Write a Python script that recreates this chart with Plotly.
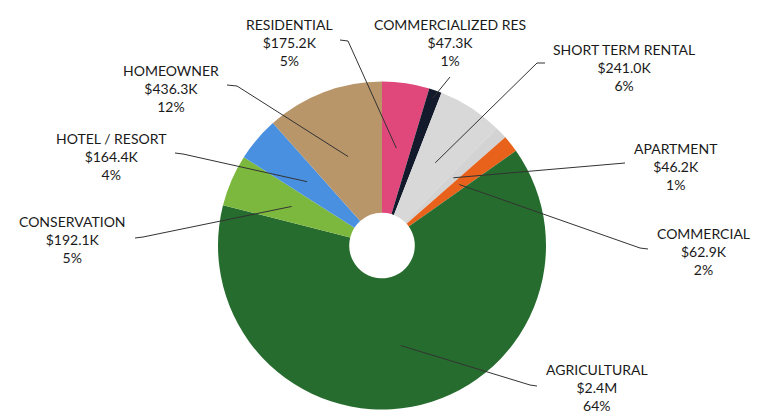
import math
import plotly.graph_objects as go

# Property class totals (thousands of dollars), clockwise from 12 o'clock
categories = ["RESIDENTIAL", "COMMERCIALIZED RES", "SHORT TERM RENTAL", "APARTMENT",
              "COMMERCIAL", "AGRICULTURAL", "CONSERVATION", "HOTEL / RESORT", "HOMEOWNER"]
values_k = [175.2, 47.3, 241.0, 46.2, 62.9, 2400.0, 192.1, 164.4, 436.3]
colors = ["#e0487c", "#121a2c", "#d8d8d8", "#d3d3d3", "#e8621c",
          "#266c2e", "#7db83e", "#4a90e0", "#b8966a"]

# Label block centres and leader-line start / elbow (pixel space)
label_xy = [(289, 42), (450, 42), (624, 67), (676, 166), (703, 251),
            (597, 387), (72, 239), (111, 156), (171, 88)]
leader_start = [(340, 40), (450, 77), (545, 63), (625, 163), (648, 249),
                (537, 386), (135, 238), (175, 153), (227, 85)]
leader_elbow = [(348, 41), (450, 77), (537, 63), (625, 163), (640, 248),
                (530, 385), (143, 237), (183, 154), (237, 86)]
tip_frac = [0.6, 0.95, 0.6, 0.6, 0.6, 0.62, 0.6, 0.6, 0.58]

W, H = 763, 417
CX, CY, R = 382, 245.5, 164
HOLE = 0.2


def fmt_money(v):
    return f"${v / 1000:.1f}M" if v >= 1000 else f"${v:.1f}K"


total = sum(values_k)
fig = go.Figure()

fig.add_trace(go.Pie(
    labels=categories, values=values_k, sort=False, direction="clockwise",
    rotation=0, hole=HOLE, textinfo="none", hoverinfo="label+value+percent",
    marker=dict(colors=colors, line=dict(width=0)),
    domain=dict(x=[(CX - R) / W, (CX + R) / W],
                y=[(H - CY - R) / H, (H - CY + R) / H]),
    showlegend=False,
))

# Leader lines (drawn above the pie) from each label to a point inside its slice
cum = 0.0
for i, v in enumerate(values_k):
    mid = (cum + v / 2) / total * 2 * math.pi
    cum += v
    r = R * tip_frac[i]
    tx, ty = CX + r * math.sin(mid), CY - r * math.cos(mid)
    sx, sy = leader_start[i]
    ex, ey = leader_elbow[i]
    fig.add_shape(
        type="path", xref="x", yref="y", layer="above",
        path=f"M {sx} {sy} L {ex} {ey} L {tx:.2f} {ty:.2f}",
        line=dict(color="#333333", width=1),
    )
    pct = round(v / total * 100)
    lx, ly = label_xy[i]
    fig.add_annotation(
        x=lx, y=ly, xref="x", yref="y", showarrow=False,
        text=f"{categories[i]}<br>{fmt_money(v)}<br>{pct}%",
        font=dict(family="Lato", size=14, color="#1a1a1a"),
        align="center", xanchor="center", yanchor="middle",
    )

# Invisible axes spanning the page in pixel units, used to place labels and leaders
fig.add_trace(go.Scatter(x=[0, W], y=[0, H], mode="markers",
                         marker=dict(opacity=0), hoverinfo="skip", showlegend=False))

fig.update_layout(
    width=W, height=H, margin=dict(l=0, r=0, t=0, b=0),
    paper_bgcolor="white", plot_bgcolor="rgba(0,0,0,0)",
    xaxis=dict(range=[0, W], visible=False, fixedrange=True),
    yaxis=dict(range=[H, 0], visible=False, fixedrange=True),
)

fig.write_html("out.html")
